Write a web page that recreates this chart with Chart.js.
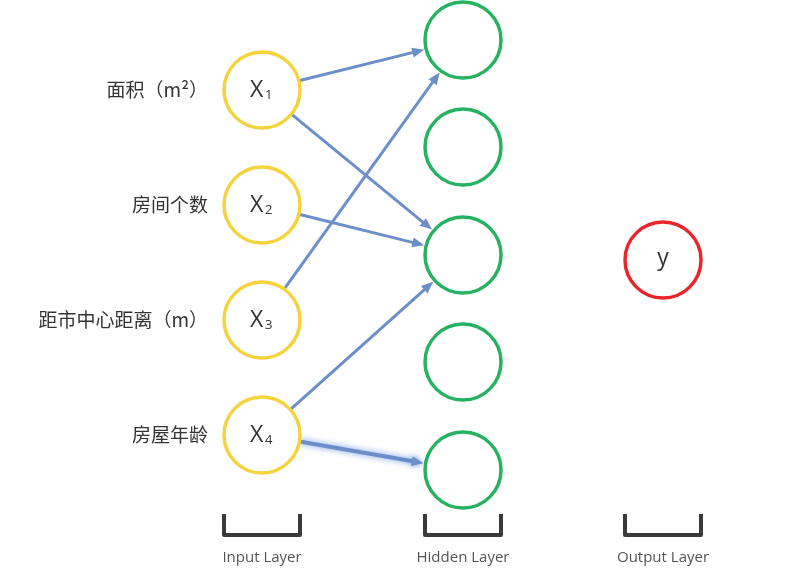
<!DOCTYPE html>
<html lang="zh">
<head>
<meta charset="UTF-8">
<title>Neural network</title>
<script src="https://cdn.jsdelivr.net/npm/chart.js"></script>
<style>
  body { margin: 0; background: #fff; }
  .wrap { width: 802px; height: 568px; position: relative; }
</style>
</head>
<body>
<div class="wrap"><canvas id="net"></canvas></div>
<script>
// layer x positions and node y positions (diagram coordinates)
const layerX = [262, 463, 663];
const inputY = [90, 205, 320, 435];
const hiddenY = [40, 147, 255, 362, 470];
const outputY = [260];
const inputNames = ['面积（m²）', '房间个数', '距市中心距离（m）', '房屋年龄'];
const inputSubs = ['1', '2', '3', '4'];
const layerNames = ['Input Layer', 'Hidden Layer', 'Output Layer'];
// edges: [input index, hidden index, highlighted]
const edges = [[0, 0, 0], [0, 2, 0], [1, 2, 0], [2, 0, 0], [3, 2, 0], [3, 4, 1]];
const R = 38;

const pts = (x, ys) => ys.map(y => ({ x: x, y: y }));

const drawPlugin = {
  id: 'net',
  beforeDatasetsDraw(chart) {
    const { ctx, scales: { x, y } } = chart;
    edges.forEach(e => {
      const x1 = x.getPixelForValue(layerX[0]), y1 = y.getPixelForValue(inputY[e[0]]);
      const x2 = x.getPixelForValue(layerX[1]), y2 = y.getPixelForValue(hiddenY[e[1]]);
      const a = Math.atan2(y2 - y1, x2 - x1);
      const sx = x1 + R * Math.cos(a), sy = y1 + R * Math.sin(a);
      const ex = x2 - (R + 2) * Math.cos(a), ey = y2 - (R + 2) * Math.sin(a);
      ctx.save();
      ctx.strokeStyle = '#6d8fc9';
      ctx.fillStyle = '#6d8fc9';
      if (e[2]) {
        ctx.shadowColor = 'rgba(80,130,220,0.8)';
        ctx.shadowBlur = 6;
        ctx.lineWidth = 4;
      } else {
        ctx.lineWidth = 3;
      }
      ctx.beginPath();
      ctx.moveTo(sx, sy);
      ctx.lineTo(ex - 8 * Math.cos(a), ey - 8 * Math.sin(a));
      ctx.stroke();
      ctx.beginPath();
      ctx.moveTo(ex, ey);
      ctx.lineTo(ex - 12 * Math.cos(a) + 5 * Math.sin(a), ey - 12 * Math.sin(a) - 5 * Math.cos(a));
      ctx.lineTo(ex - 12 * Math.cos(a) - 5 * Math.sin(a), ey - 12 * Math.sin(a) + 5 * Math.cos(a));
      ctx.closePath();
      ctx.fill();
      ctx.restore();
    });
  },
  afterDatasetsDraw(chart) {
    const { ctx, scales: { x, y } } = chart;
    ctx.save();
    ctx.textBaseline = 'middle';
    ctx.fillStyle = '#333';
    // input labels
    ctx.font = '19px "Noto Sans CJK SC"';
    ctx.textAlign = 'right';
    inputY.forEach((v, i) => ctx.fillText(inputNames[i], x.getPixelForValue(208), y.getPixelForValue(v)));
    // X_i node text
    inputY.forEach((v, i) => {
      const cx = x.getPixelForValue(layerX[0]), cy = y.getPixelForValue(v);
      ctx.textAlign = 'left';
      ctx.font = '23px "Open Sans"';
      ctx.fillText('X', cx - 12, cy);
      ctx.font = '13px "Open Sans"';
      ctx.fillText(inputSubs[i], cx + 3, cy + 5);
    });
    ctx.textAlign = 'center';
    ctx.font = '23px "Open Sans"';
    ctx.fillText('y', x.getPixelForValue(layerX[2]), y.getPixelForValue(outputY[0]) - 2);
    // brackets and layer names
    layerX.forEach((lx, i) => {
      const cx = x.getPixelForValue(lx);
      ctx.strokeStyle = '#3a3a3a';
      ctx.lineWidth = 4;
      ctx.lineJoin = 'round';
      ctx.beginPath();
      ctx.moveTo(cx - 38, y.getPixelForValue(514));
      ctx.lineTo(cx - 38, y.getPixelForValue(535));
      ctx.lineTo(cx + 38, y.getPixelForValue(535));
      ctx.lineTo(cx + 38, y.getPixelForValue(514));
      ctx.stroke();
      ctx.fillStyle = '#555';
      ctx.font = '15px "Open Sans"';
      ctx.fillText(layerNames[i], cx, y.getPixelForValue(558));
    });
    ctx.restore();
  }
};

const node = (data, color) => ({
  data: data, borderColor: color, backgroundColor: '#fff', borderWidth: 3.5,
  pointRadius: R, pointHoverRadius: R, clip: false
});

new Chart(document.getElementById('net'), {
  type: 'scatter',
  data: {
    datasets: [
      node(pts(layerX[0], inputY), '#f5d33d'),
      node(pts(layerX[1], hiddenY), '#27b262'),
      node(pts(layerX[2], outputY), '#e8262b')
    ]
  },
  options: {
    responsive: true,
    maintainAspectRatio: false,
    animation: false,
    layout: { padding: 0, autoPadding: false },
    plugins: { legend: { display: false }, tooltip: { enabled: false } },
    scales: {
      x: { type: 'linear', min: 0, max: 802, display: false },
      y: { type: 'linear', min: 0, max: 568, reverse: true, display: false }
    }
  },
  plugins: [drawPlugin]
});
</script>
</body>
</html>
